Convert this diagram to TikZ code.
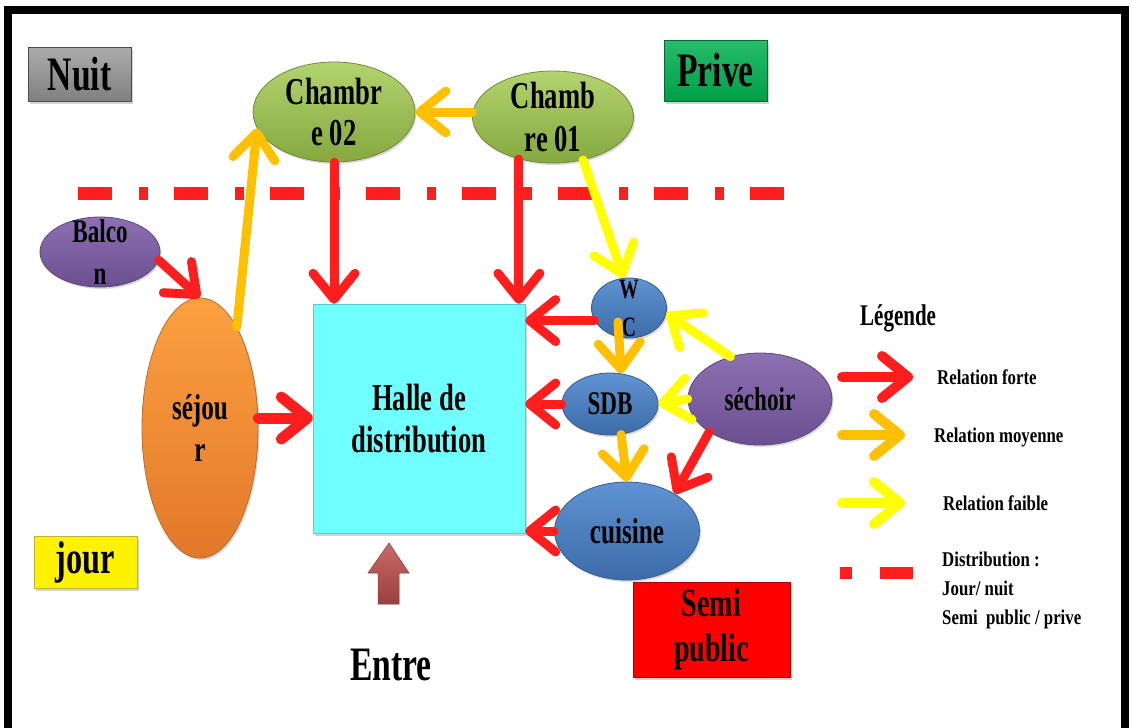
\documentclass[tikz,border=0pt]{standalone}
\usepackage{fontspec}
\setmainfont{Liberation Serif}[FakeStretch=0.7]
\newfontfamily\legfont{Liberation Serif}[FakeStretch=0.8]
\usepackage{xcolor}
\usetikzlibrary{arrows.meta,shapes.geometric,shadows}

\definecolor{relred}{HTML}{FF1E1E}
\definecolor{relorange}{HTML}{FFC000}
\definecolor{relyellow}{HTML}{FFFF00}
\definecolor{grtop}{HTML}{B2D36E}
\definecolor{grbot}{HTML}{86A83F}
\definecolor{grborder}{HTML}{71893F}
\definecolor{bltop}{HTML}{5F93D3}
\definecolor{blbot}{HTML}{3D6CA8}
\definecolor{blborder}{HTML}{385D8A}
\definecolor{pptop}{HTML}{8D70B2}
\definecolor{ppbot}{HTML}{6B4F90}
\definecolor{ppborder}{HTML}{5C4776}
\definecolor{ortop}{HTML}{FCA040}
\definecolor{orbot}{HTML}{E2782A}
\definecolor{orborder}{HTML}{B66D31}
\definecolor{halle}{HTML}{70FFFF}
\definecolor{entrered}{HTML}{C0504D}
\definecolor{privegreen}{HTML}{00B050}

\newcommand\txtsz[2]{\fontsize{#1}{#2}\selectfont}

\begin{document}
\begin{tikzpicture}[x=1pt, y=-1pt,
    room/.style={ellipse, inner sep=0pt, line width=0.8pt,
        drop shadow={opacity=0.3, shadow xshift=1.5pt, shadow yshift=-2pt}},
    roomtext/.style={font=\bfseries, align=center, inner sep=0pt},
    greenroom/.style={room, draw=grborder, top color=grtop, bottom color=grbot},
    blueroom/.style={room, draw=blborder, top color=bltop, bottom color=blbot},
    purpleroom/.style={room, draw=ppborder, top color=pptop, bottom color=ppbot},
    orangeroom/.style={room, draw=orborder, top color=ortop, bottom color=orbot},
    zone/.style={rectangle, inner sep=0pt, align=center, font=\bfseries,
        drop shadow={opacity=0.35, shadow xshift=1.5pt, shadow yshift=-2.5pt}},
    rel/.style={line width=9pt, line cap=round,
        -{Straight Barb[round, length=26pt, width=42pt]}},
    strong/.style={rel, draw=relred},
    medium/.style={rel, draw=relorange},
    weak/.style={rel, draw=relyellow},
    distline/.style={draw=relred, line width=13pt,
        dash pattern=on 34pt off 27pt on 9pt off 26pt},
    legtext/.style={anchor=base west, inner sep=0pt, align=left,
        font=\legfont\bfseries\txtsz{21}{29}}
]
\useasboundingbox (0,0) rectangle (1133,728);

% frame
\draw[line width=8pt] (8,728) -- (8,10) -- (1125,10) -- (1125,728);

% day / night limit
\coordinate (limA) at (78,193);
\coordinate (limB) at (786,193);
\draw[distline] (limA) -- (limB);

% zones
\node[zone, top color=gray!65, bottom color=gray!100, draw=gray!60!black,
      minimum width=103, minimum height=54, font=\bfseries\txtsz{48}{50}] (nuit) at (79.5,74) {Nuit};
\node[zone, top color=privegreen!85!white, bottom color=privegreen!90!black, draw=privegreen!60!black,
      minimum width=103, minimum height=61, font=\bfseries\txtsz{48}{50}] (prive) at (715.5,70.5) {Prive};
\node[zone, fill=yellow, draw=yellow!70!black,
      minimum width=103, minimum height=52, font=\bfseries\txtsz{46}{48}] (jour) at (85.5,562) {jour};
\node[zone, fill=red, draw=red!70!black,
      minimum width=157, minimum height=95, font=\bfseries\txtsz{40}{45}] (semi) at (711.5,629.5) {Semi\\public};

% spaces
\node[zone, fill=halle, draw=halle!80!black, minimum width=212, minimum height=229,
      font=\bfseries\txtsz{38}{42}] (halle) at (419,418.5) {Halle de\\distribution};
\node[greenroom, minimum width=162, minimum height=100,
      label={[roomtext, font=\bfseries\txtsz{38}{41}]center:Chambr\\e 02}] (ch02) at (334,112) {};
\node[greenroom, minimum width=161, minimum height=92,
      label={[roomtext, font=\bfseries\txtsz{38}{43}]center:Chamb\\re 01}] (ch01) at (553,117) {};
\node[purpleroom, minimum width=120, minimum height=70,
      label={[roomtext, font=\bfseries\txtsz{33}{42}]center:Balco\\n}] (balcon) at (100,252) {};
\node[orangeroom, minimum width=116, minimum height=260,
      label={[roomtext, font=\bfseries\txtsz{36}{42}]center:séjou\\r}] (sejour) at (200,428) {};
\node[blueroom, minimum width=75, minimum height=60,
      label={[roomtext, font=\bfseries\txtsz{28}{38}]center:W\\C}] (wc) at (629,308) {};
\node[blueroom, minimum width=96, minimum height=62,
      label={[roomtext, font=\bfseries\txtsz{33}{36}]center:SDB}] (sdb) at (610,404) {};
\node[purpleroom, minimum width=144, minimum height=92,
      label={[roomtext, font=\bfseries\txtsz{33}{36}]center:séchoir}] (sechoir) at (760,399) {};
\node[blueroom, minimum width=145, minimum height=98,
      label={[roomtext, font=\bfseries\txtsz{36}{40}]center:cuisine}] (cuisine) at (627,531) {};

% entrance
\coordinate (entre) at (389,573);
\path[top color=entrered!85!white, bottom color=entrered!80!black, draw=entrered!70!black, line width=0.5pt]
    (368,573) -- (389,543) -- (409,573) -- (399,573) -- (399,604) -- (378,604) -- (378,573) -- cycle;
\node[font=\bfseries\txtsz{48}{50}] (entretxt) at (391,665) {Entre};

% relations
\draw[medium] (ch01.west |- ch02.east) -- (ch02.east);
\draw[medium] (sejour.70) -- (ch02.192);
\draw[strong] (ch02.south) -- (ch02.south |- halle.north);
\draw[strong] (ch01.231) -- (ch01.231 |- halle.north);
\draw[weak] (ch01.305) -- (wc.100);
\draw[strong] (balcon.-8) -- (sejour.north);
\draw[strong, line width=11pt] ([yshift=10pt]sejour.east) -- ([yshift=10pt]sejour.east -| halle.west);
\draw[strong] (wc.200) -- (wc.200 -| halle.east);
\draw[strong] (sdb.west) -- (sdb.west -| halle.east);
\draw[strong] (cuisine.west) -- (cuisine.west -| halle.east);
\draw[medium] ([xshift=-11pt, yshift=-14pt]wc.center) -- (sdb.70);
\draw[medium] (sdb.290) -- (cuisine.north);
\draw[weak] (sechoir.125) -- (wc.-8);
\draw[weak] (sechoir.west) -- (sdb.east);
\draw[strong] (sechoir.213) -- (cuisine.38);

% legend
\node[anchor=base west, inner sep=0pt, font=\bfseries\txtsz{30}{32}] (legende) at (860,325) {Légende};
\coordinate (leg1a) at (842,377);
\coordinate (leg1b) at (913,377);
\coordinate (leg2a) at (842,435);
\coordinate (leg2b) at (905,435);
\coordinate (leg3a) at (842,503);
\coordinate (leg3b) at (905,503);
\coordinate (leg4a) at (840,573);
\coordinate (leg4b) at (913,573);
\draw[strong, line width=10pt] (leg1a) -- (leg1b);
\draw[medium, line width=10pt] (leg2a) -- (leg2b);
\draw[weak, line width=10pt] (leg3a) -- (leg3b);
\draw[draw=relred, line width=12pt, dash pattern=on 12pt off 28pt on 33pt off 100pt] (leg4a) -- (leg4b);
\node[legtext] (forte) at (937,384) {Relation forte};
\node[legtext] (moyenne) at (934,442) {Relation moyenne};
\node[legtext] (faible) at (943,510) {Relation faible};
\node[legtext, anchor=north west] (distrib) at (942,552) {Distribution :\\Jour/ nuit\\Semi\ \ public / prive};
\end{tikzpicture}
\end{document}
